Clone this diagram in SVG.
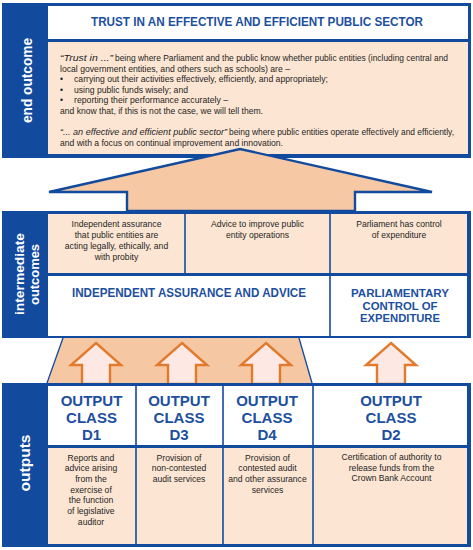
<svg xmlns="http://www.w3.org/2000/svg" width="473" height="550" viewBox="0 0 473 550">
<style>
.band{fill:#124a9e}
.peach{fill:#fce6d3}
.white{fill:#ffffff}
.div{stroke:#124a9e;stroke-width:1.6}
.lbl{font-family:"Liberation Sans",Arial,sans-serif;font-weight:bold;fill:#ffffff;text-anchor:middle}
.hd{font-family:"Liberation Sans",Arial,sans-serif;font-weight:bold;fill:#1d4f9f}
.oc{font-family:"Liberation Sans",Arial,sans-serif;font-weight:bold;fill:#1d4f9f;font-size:15px;text-anchor:middle}
.bd{font-family:"Liberation Sans",Arial,sans-serif;font-size:8.6px;fill:#1e1e1e}
.sm{font-family:"Liberation Sans",Arial,sans-serif;font-size:8.6px;fill:#1e1e1e;text-anchor:middle}
.it{font-style:italic}
.up{fill:#fde8e4;stroke:#e27a2c;stroke-width:2.4;stroke-linejoin:miter}
</style>
<rect width="473" height="550" fill="#ffffff"/>

<g id="end-outcome">
<rect class="band" x="2" y="3" width="469" height="155"/>
<rect class="white" x="48" y="6" width="420" height="33"/>
<rect class="peach" x="48" y="42" width="420" height="112"/>
<text class="lbl" font-size="14" transform="translate(32,80.5) rotate(-90)" textLength="85" lengthAdjust="spacingAndGlyphs">end outcome</text>
<text class="hd" x="257" y="26" font-size="12.6" text-anchor="middle" textLength="332" lengthAdjust="spacingAndGlyphs">TRUST IN AN EFFECTIVE AND EFFICIENT PUBLIC SECTOR</text>
<text class="bd it" x="60" y="61" textLength="53" lengthAdjust="spacingAndGlyphs">“Trust in ...”</text>
<text class="bd" x="115" y="61" textLength="333" lengthAdjust="spacingAndGlyphs">being where Parliament and the public know whether public entities (including central and</text>
<text class="bd" x="60" y="71.5" textLength="230" lengthAdjust="spacingAndGlyphs">local government entities, and others such as schools) are –</text>
<text class="bd" x="60" y="82">•</text>
<text class="bd" x="74" y="82" textLength="254" lengthAdjust="spacingAndGlyphs">carrying out their activities effectively, efficiently, and appropriately;</text>
<text class="bd" x="60" y="92.5">•</text>
<text class="bd" x="74" y="92.5" textLength="114" lengthAdjust="spacingAndGlyphs">using public funds wisely; and</text>
<text class="bd" x="60" y="103">•</text>
<text class="bd" x="74" y="103" textLength="154" lengthAdjust="spacingAndGlyphs">reporting their performance accurately –</text>
<text class="bd" x="60" y="113.5" textLength="203" lengthAdjust="spacingAndGlyphs">and know that, if this is not the case, we will tell them.</text>
<text class="bd it" x="60" y="135" textLength="167" lengthAdjust="spacingAndGlyphs">“... an effective and efficient public sector”</text>
<text class="bd" x="229" y="135" textLength="225" lengthAdjust="spacingAndGlyphs">being where public entities operate effectively and efficiently,</text>
<text class="bd" x="60" y="145.5" textLength="223" lengthAdjust="spacingAndGlyphs">and with a focus on continual improvement and innovation.</text>
</g>

<g id="intermediate-outcomes">
<rect class="band" x="2" y="211" width="469" height="127"/>
<rect class="peach" x="48" y="214" width="419" height="59"/>
<rect class="white" x="48" y="276" width="419" height="60"/>
<line class="div" x1="185" y1="213" x2="185" y2="274"/>
<line class="div" x1="330" y1="213" x2="330" y2="337"/>
<text class="lbl" font-size="13.5" transform="translate(24,274) rotate(-90)" textLength="82" lengthAdjust="spacingAndGlyphs">intermediate</text>
<text class="lbl" font-size="13.5" transform="translate(39,274.5) rotate(-90)" textLength="61" lengthAdjust="spacingAndGlyphs">outcomes</text>
<text class="sm" x="116.5" y="227">Independent assurance</text>
<text class="sm" x="116.5" y="238">that public entities are</text>
<text class="sm" x="116.5" y="249">acting legally, ethically, and</text>
<text class="sm" x="116.5" y="259.5">with probity</text>
<text class="sm" x="257.5" y="227">Advice to improve public</text>
<text class="sm" x="257.5" y="238">entity operations</text>
<text class="sm" x="399" y="227">Parliament has control</text>
<text class="sm" x="399" y="238">of expenditure</text>
<text class="hd" x="189" y="297" font-size="12.2" text-anchor="middle" textLength="234" lengthAdjust="spacingAndGlyphs">INDEPENDENT ASSURANCE AND ADVICE</text>
<text class="hd" x="400" y="297" font-size="11.2" text-anchor="middle" textLength="98" lengthAdjust="spacingAndGlyphs">PARLIAMENTARY</text>
<text class="hd" x="400" y="309.6" font-size="11.2" text-anchor="middle" textLength="75" lengthAdjust="spacingAndGlyphs">CONTROL OF</text>
<text class="hd" x="400" y="322.2" font-size="11.2" text-anchor="middle" textLength="80" lengthAdjust="spacingAndGlyphs">EXPENDITURE</text>
</g>

<g id="connectors">
<polygon points="49,192 240,149 432,192 355,192 355,211 127,211 127,192" fill="#f6c8a4" stroke="#124a9e" stroke-width="2.4" stroke-linejoin="miter"/>
<polygon points="63,338 299,338 312,383 47,383" fill="#f5c7a2"/>
<line x1="63" y1="338" x2="47" y2="383" stroke="#124a9e" stroke-width="1.3"/>
<line x1="299" y1="338" x2="312" y2="383" stroke="#124a9e" stroke-width="1.3"/>
<polygon class="up" points="96,343 121,365 110,365 110,384 82,384 82,365 71,365"/>
<polygon class="up" points="182,343 207,365 196,365 196,384 168,384 168,365 157,365"/>
<polygon class="up" points="266,343 291,365 280,365 280,384 252,384 252,365 241,365"/>
<polygon class="up" points="391,343 416,365 405,365 405,384 377,384 377,365 366,365"/>
</g>

<g id="outputs">
<rect class="band" x="2" y="383" width="469" height="164"/>
<rect class="white" x="48" y="386" width="419" height="59"/>
<rect class="peach" x="48" y="448" width="419" height="96"/>
<line class="div" x1="136" y1="385" x2="136" y2="545"/>
<line class="div" x1="223" y1="385" x2="223" y2="545"/>
<line class="div" x1="313" y1="385" x2="313" y2="545"/>
<text class="lbl" font-size="14" transform="translate(30,463) rotate(-90)" textLength="57" lengthAdjust="spacingAndGlyphs">outputs</text>
</g>

<g id="output-d1">
<text class="oc" x="91.5" y="405.5">OUTPUT</text>
<text class="oc" x="91.5" y="422.5">CLASS</text>
<text class="oc" x="91.5" y="439.5">D1</text>
<text class="sm" x="91" y="460.5">Reports and</text>
<text class="sm" x="91" y="471.2">advice arising</text>
<text class="sm" x="91" y="481.8">from the</text>
<text class="sm" x="91" y="492.5">exercise of</text>
<text class="sm" x="91" y="503.2">the function</text>
<text class="sm" x="91" y="513.8">of legislative</text>
<text class="sm" x="91" y="524.5">auditor</text>
</g>

<g id="output-d3">
<text class="oc" x="179" y="405.5">OUTPUT</text>
<text class="oc" x="179" y="422.5">CLASS</text>
<text class="oc" x="179" y="439.5">D3</text>
<text class="sm" x="179" y="460.5">Provision of</text>
<text class="sm" x="179" y="471.2">non-contested</text>
<text class="sm" x="179" y="481.8">audit services</text>
</g>

<g id="output-d4">
<text class="oc" x="267" y="405.5">OUTPUT</text>
<text class="oc" x="267" y="422.5">CLASS</text>
<text class="oc" x="267" y="439.5">D4</text>
<text class="sm" x="267.5" y="460.5">Provision of</text>
<text class="sm" x="267.5" y="471.2">contested audit</text>
<text class="sm" x="267.5" y="481.8">and other assurance</text>
<text class="sm" x="267.5" y="492.5">services</text>
</g>

<g id="output-d2">
<text class="oc" x="391" y="405.5">OUTPUT</text>
<text class="oc" x="391" y="422.5">CLASS</text>
<text class="oc" x="391" y="439.5">D2</text>
<text class="sm" x="391.5" y="460">Certification of authority to</text>
<text class="sm" x="391.5" y="470.5">release funds from the</text>
<text class="sm" x="391.5" y="481">Crown Bank Account</text>
</g>
</svg>
